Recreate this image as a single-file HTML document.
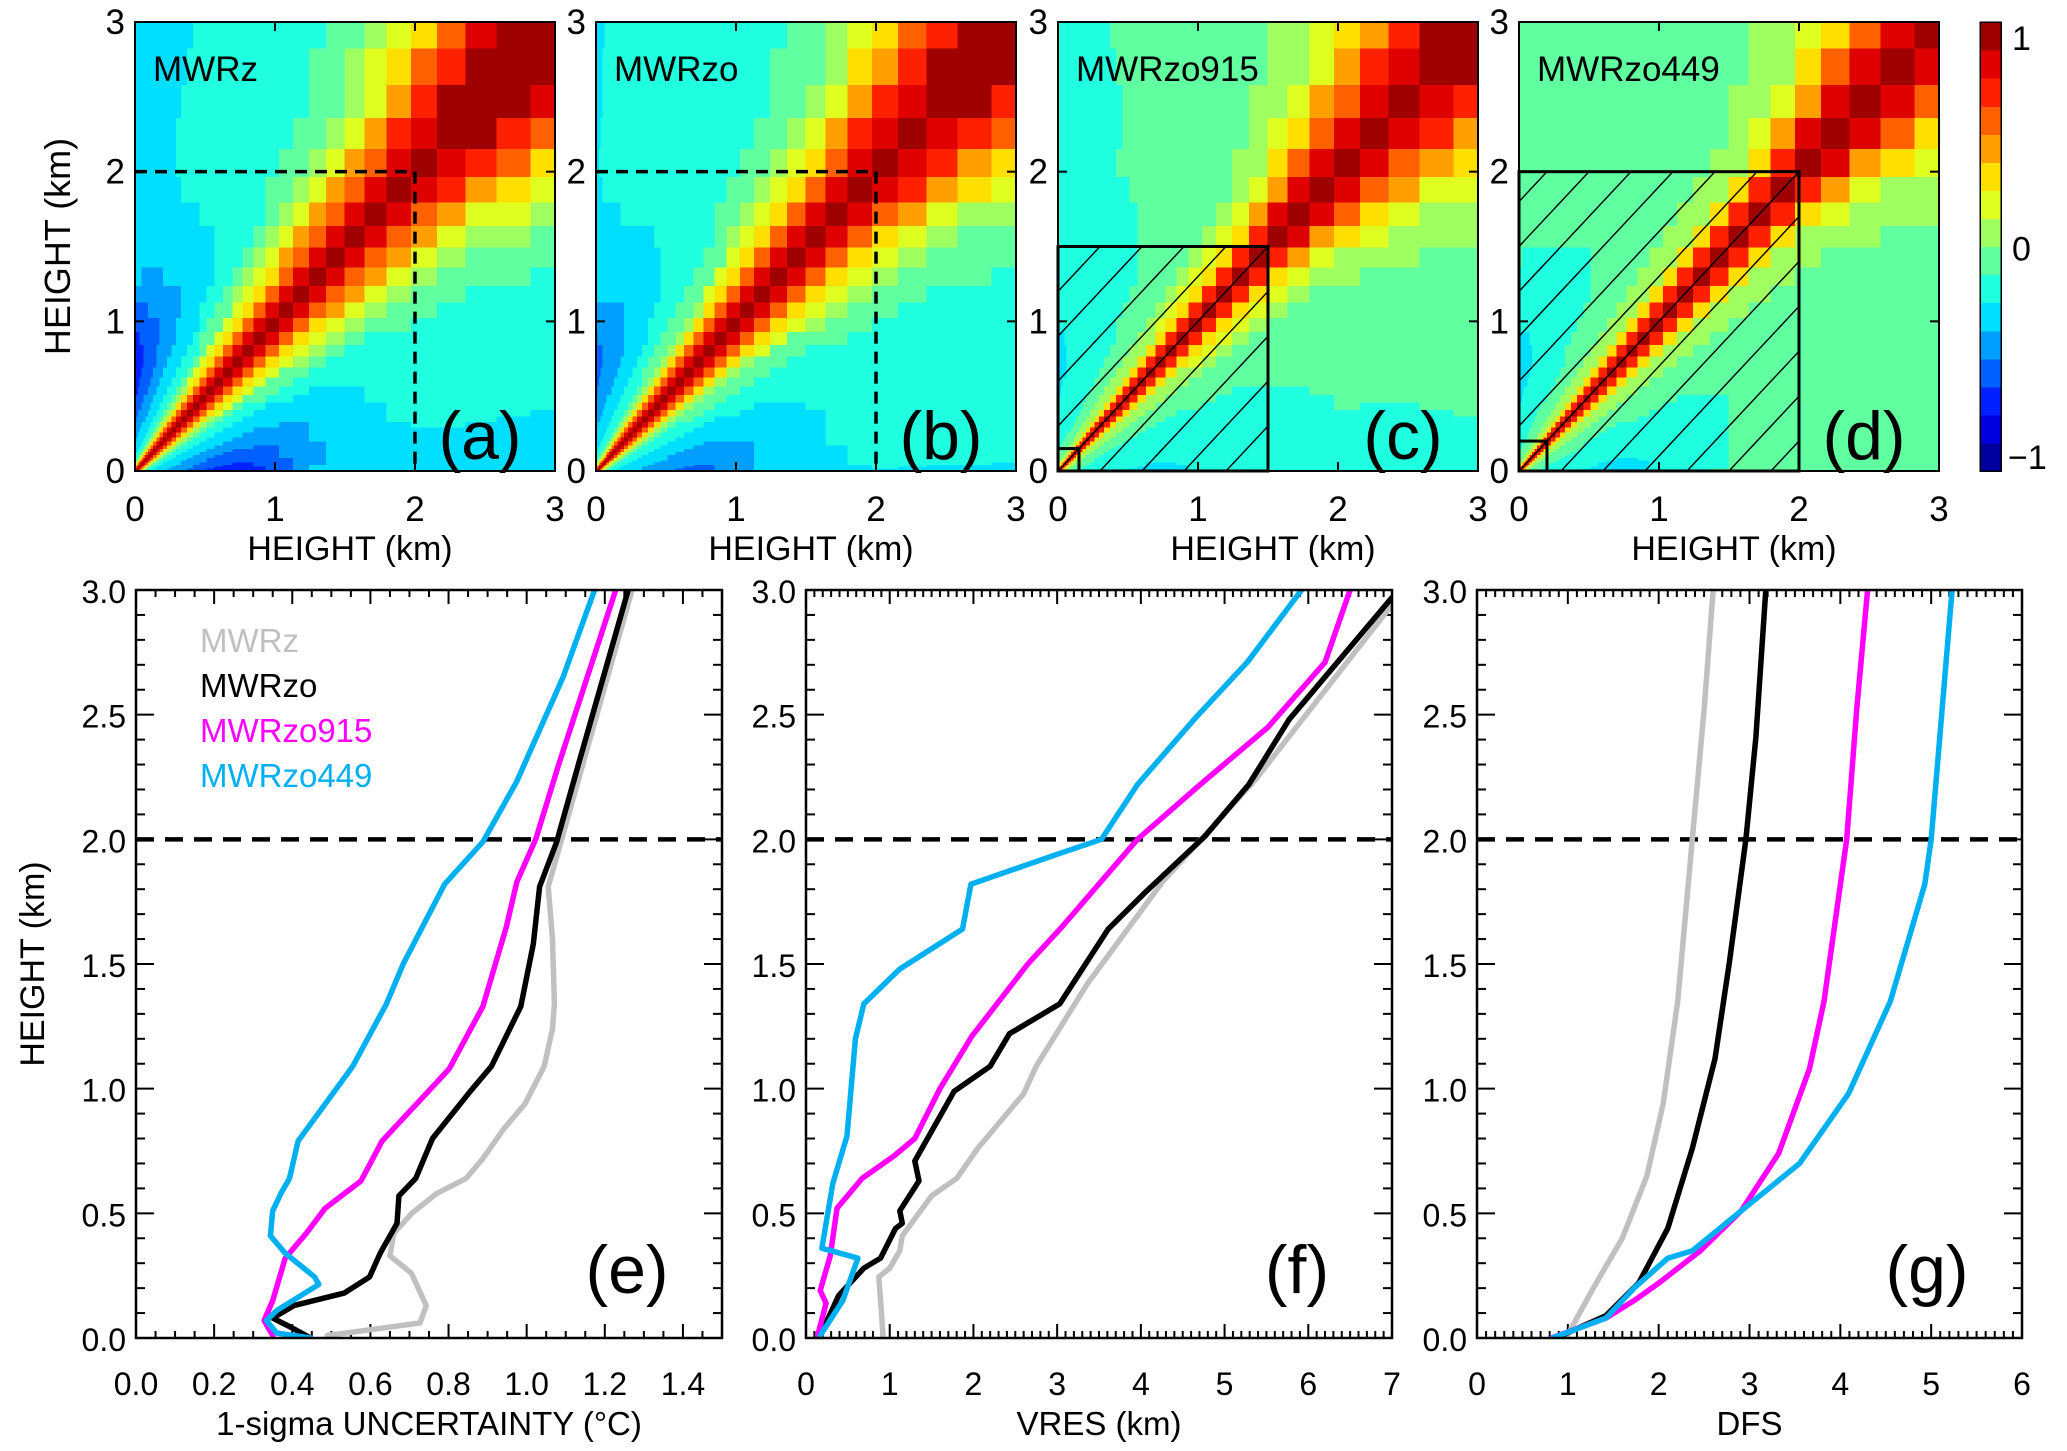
<!DOCTYPE html>
<html><head><meta charset="utf-8">
<style>
html,body{margin:0;padding:0;background:#fff;}
svg{display:block;font-family:"Liberation Sans",Arial,sans-serif;}
</style></head>
<body>
<svg id="fig" width="2067" height="1451" viewBox="0 0 2067 1451" xmlns="http://www.w3.org/2000/svg"></svg>
<script>
// ---------- DATA ----------
const heatTitles = ["MWRz","MWRzo","MWRzo915","MWRzo449"];
const heatLetters = ["(a)","(b)","(c)","(d)"];
const heatLobe = [0.45, 0.3, 0.15, 0.2];          // negative side-lobe strength near surface
const heatBase = [-0.28, -0.26, -0.13, -0.1];     // far-field correlation
const heatWidth0 = [0.03, 0.025, 0.02, 0.02];     // correlation length at surface (km)
const heatWidthSlope = [0.3, 0.28, 0.17, 0.15];   // growth of correlation length per km
const heatKnee = [1.9, 1.9, 1.5, 1.9];            // height above which correlation broadens
const hatchTop = [0, 0, 1.5, 2.0];
const smallBox = [0, 0, 0.15, 0.2];
const dashedBox = [2, 2, 0, 0];

const eGrayX = [0.49,0.727,0.743,0.705,0.65,0.66,0.706,0.77,0.845,0.888,0.942,0.996,1.045,1.066,1.071,1.066,1.055,1.077,1.27];
const eGrayY = [0.01,0.06,0.13,0.26,0.33,0.42,0.5,0.58,0.64,0.72,0.84,0.94,1.09,1.24,1.34,1.6,1.81,1.93,3.0];
const eBlackX = [0.447,0.40,0.35,0.404,0.533,0.598,0.625,0.668,0.673,0.716,0.759,0.856,0.91,0.985,1.017,1.033,1.077,1.136,1.26];
const eBlackY = [0,0.04,0.08,0.13,0.18,0.245,0.34,0.46,0.57,0.64,0.80,0.99,1.09,1.33,1.58,1.81,1.99,2.32,3.0];
const eMagX = [0.35,0.328,0.35,0.382,0.436,0.484,0.576,0.63,0.737,0.802,0.888,0.948,0.975,1.023,1.082,1.228];
const eMagY = [0.01,0.07,0.15,0.32,0.42,0.52,0.63,0.79,0.97,1.08,1.33,1.65,1.83,2.0,2.3,3.0];
const eCyanX = [0.447,0.36,0.334,0.36,0.468,0.457,0.382,0.344,0.35,0.371,0.393,0.415,0.555,0.641,0.684,0.79,0.888,0.974,1.093,1.174];
const eCyanY = [0,0.02,0.07,0.11,0.215,0.245,0.34,0.41,0.51,0.58,0.64,0.79,1.09,1.34,1.50,1.82,1.99,2.23,2.65,3.0];

const fGrayX = [0.92,0.90,0.87,1.0,1.12,1.15,1.5,1.8,2.05,2.6,2.75,3.36,4.26,5.37,7.02];
const fGrayY = [0.01,0.11,0.245,0.28,0.35,0.41,0.57,0.64,0.76,0.98,1.09,1.42,1.83,2.24,2.95];
const fBlackX = [0.17,0.39,0.69,0.89,1.07,1.15,1.12,1.35,1.30,1.77,2.2,2.43,3.03,3.61,4.06,4.76,5.29,5.77,7.0];
const fBlackY = [0.01,0.17,0.28,0.32,0.44,0.46,0.51,0.63,0.71,0.99,1.09,1.22,1.34,1.64,1.79,2.01,2.22,2.48,2.97];
const fMagX = [0.14,0.24,0.17,0.29,0.37,0.67,1.05,1.30,1.6,1.98,2.65,3.06,3.96,4.71,5.52,6.2,6.5];
const fMagY = [0.01,0.14,0.19,0.33,0.52,0.64,0.73,0.80,1.00,1.21,1.50,1.65,2.0,2.22,2.45,2.71,3.0];
const fCyanX = [0.17,0.44,0.62,0.19,0.32,0.49,0.59,0.69,1.12,1.87,1.97,3.0,3.53,3.96,4.66,5.27,5.92];
const fCyanY = [0.01,0.15,0.32,0.36,0.62,0.81,1.20,1.34,1.48,1.64,1.82,1.94,2.0,2.22,2.49,2.71,3.0];

const gGrayX = [0.98,1.28,1.6,1.87,2.05,2.21,2.37,2.5,2.6];
const gGrayY = [0.0,0.2,0.4,0.65,0.94,1.35,2.0,2.52,3.0];
const gBlackX = [0.87,1.42,1.78,2.1,2.37,2.62,2.78,2.96,3.07,3.18];
const gBlackY = [0,0.09,0.22,0.44,0.76,1.12,1.51,2.0,2.41,3.0];
const gMagX = [0.82,1.42,1.73,2.0,2.46,2.91,3.32,3.66,3.82,4.07,4.18,4.3];
const gMagY = [0,0.08,0.15,0.22,0.35,0.51,0.74,1.08,1.35,2.0,2.52,3.0];
const gCyanX = [0.83,1.42,1.73,2.1,2.37,2.91,3.55,4.09,4.55,4.93,5.0,5.12,5.23];
const gCyanY = [0,0.08,0.2,0.32,0.35,0.51,0.70,0.98,1.35,1.82,2.0,2.52,3.0];

const legendNames = ["MWRz","MWRzo","MWRzo915","MWRzo449"];
const eTicks = ["0.0","0.2","0.4","0.6","0.8","1.0","1.2","1.4"];
const fTicks = ["0","1","2","3","4","5","6","7"];
const gTicks = ["0","1","2","3","4","5","6"];
const yTicks = ["0.0","0.5","1.0","1.5","2.0","2.5","3.0"];

// ---------- HELPERS ----------
const NS="http://www.w3.org/2000/svg";
const svg=document.getElementById('fig');
function mk(tag,attrs,parent){const e=document.createElementNS(NS,tag);for(const k in attrs)e.setAttribute(k,attrs[k]);(parent||svg).appendChild(e);return e;}
function txt(s,attrs,parent){const e=mk('text',attrs,parent);e.textContent=s;return e;}
const colors=["#c0c0c0","#000000","#ff00ff","#00b0f0"];

function jet(v){
  let t=(v+1)/2; t=Math.max(0,Math.min(0.9999,t));
  t=(Math.floor(t*16)+0.5)/16;
  const c=x=>Math.round(255*Math.max(0,Math.min(1,x)));
  return `rgb(${c(1.5-Math.abs(4*t-3))},${c(1.5-Math.abs(4*t-2))},${c(1.5-Math.abs(4*t-1))})`;
}

const zEdges=[0]; {let dz=0.01;while(zEdges[zEdges.length-1]<3){zEdges.push(Math.min(3,zEdges[zEdges.length-1]+dz));dz*=1.09;}}

// ---------- TOP HEATMAPS ----------
const topX=[135,596,1058,1519], topY=22, topW=420, topH=449;
for(let p=0;p<4;p++){
  const g=mk('g',{});
  
  
  const X=v=>topX[p]+v/3*topW, Y=v=>topY+topH-v/3*topH;
  const cells=mk('g',{'shape-rendering':'crispEdges'},g);
  
  
  for(let i=0;i<zEdges.length-1;i++){
    const zi=(zEdges[i]+zEdges[i+1])/2;
    for(let j=0;j<zEdges.length-1;j++){
      const zj=(zEdges[j]+zEdges[j+1])/2;
      const d=Math.abs(zi-zj), zm=(zi+zj)/2, zmin=Math.min(zi,zj);
      const L=heatWidth0[p]+heatWidthSlope[p]*zm+0.3*Math.max(0,zm-heatKnee[p]);
      const f=0.55*Math.exp(-(d/L)*(d/L))+0.45*Math.exp(-d/(1.6*L));
      let v=heatBase[p]+(1-heatBase[p])*f;
      v-=heatLobe[p]*Math.exp(-zmin/0.35)*Math.exp(-((d-0.7)/0.5)*((d-0.7)/0.5));
      const x0=X(zEdges[i]), x1=X(zEdges[i+1]), y0=Y(zEdges[j+1]), y1=Y(zEdges[j]);
      mk('rect',{x:x0.toFixed(2),y:y0.toFixed(2),width:(x1-x0+0.6).toFixed(2),height:(y1-y0+0.6).toFixed(2),fill:jet(v)},cells);
    }
  }
  mk('rect',{x:topX[p],y:topY,width:topW,height:topH,fill:'none',stroke:'#000','stroke-width':2},g);
  for(let k=0;k<=3;k++){
    mk('line',{x1:X(k),x2:X(k),y1:topY+topH,y2:topY+topH-9,stroke:'#000','stroke-width':2},g);
    mk('line',{x1:X(k),x2:X(k),y1:topY,y2:topY+9,stroke:'#000','stroke-width':2},g);
    mk('line',{x1:topX[p],x2:topX[p]+9,y1:Y(k),y2:Y(k),stroke:'#000','stroke-width':2},g);
    mk('line',{x1:topX[p]+topW,x2:topX[p]+topW-9,y1:Y(k),y2:Y(k),stroke:'#000','stroke-width':2},g);
    const xl=txt(String(k),{x:X(k),y:topY+topH+50,'font-size':35,'text-anchor':'middle'},g);
    
    const yl=txt(String(k),{x:topX[p]-10,y:Y(k)+12,'font-size':35,'text-anchor':'end'},g);
    
  }
  if(dashedBox[p]){
    const dl=mk('path',{d:`M${X(0)},${Y(2)}H${X(2)}V${Y(0)}`,fill:'none',stroke:'#000','stroke-width':3.5,'stroke-dasharray':'12,8'},g);
    
  }
  if(hatchTop[p]){
    const h=hatchTop[p];
    const cid='clip'+p;
    const cp=mk('clipPath',{id:cid},g);
    mk('rect',{x:X(0),y:Y(h),width:X(h)-X(0),height:Y(0)-Y(h)},cp);
    const hg=mk('g',{'clip-path':`url(#${cid})`},g);
    
    for(let c=-3;c<=3.01;c+=0.3){
      mk('line',{x1:X(0),y1:Y(0+c),x2:X(3),y2:Y(3+c),stroke:'#000','stroke-width':1.4},hg);
    }
    mk('rect',{x:X(0),y:Y(h),width:X(h)-X(0),height:Y(0)-Y(h),fill:'none',stroke:'#000','stroke-width':3},g);
    mk('rect',{x:X(0),y:Y(smallBox[p]),width:X(smallBox[p])-X(0),height:Y(0)-Y(smallBox[p]),fill:'none',stroke:'#000','stroke-width':3},g);
  }
  const t=txt(heatTitles[p],{x:topX[p]+18,y:81,'font-size':35},g);
  
  const l=txt(heatLetters[p],{x:topX[p]+345,y:topY+topH-12,'font-size':68,'text-anchor':'middle'},g);
  
  const xt=txt('HEIGHT (km)',{x:topX[p]+topW/2+5,y:560,'font-size':34,'text-anchor':'middle'},g);
  
}
const yt1=txt('HEIGHT (km)',{x:0,y:0,'font-size':36,'text-anchor':'middle',transform:`translate(70,${topY+topH/2}) rotate(-90)`});


{
  const cb=mk('g',{'shape-rendering':'crispEdges'});
  
  const cx=1980,cw=21;
  for(let k=0;k<16;k++){
    const v=-1+(k+0.5)*2/16;
    mk('rect',{x:cx,y:topY+topH-(k+1)*topH/16,width:cw,height:topH/16+0.6,fill:jet(v)},cb);
  }
  mk('rect',{x:cx,y:topY,width:cw,height:topH,fill:'none',stroke:'#000','stroke-width':1.5},cb);
  txt('1',{x:2012,y:50,'font-size':34},cb);
  txt('0',{x:2012,y:topY+topH/2+14,'font-size':34},cb);
  txt('\u22121',{x:2008,y:topY+topH-2,'font-size':34},cb);
}

// ---------- BOTTOM LINE PLOTS ----------
const botY=590, botH=748;
const panels=[
  {x:136,w:586,xmax:1.5,ticks:eTicks,major:0.2,minor:0.05,title:'1-sigma UNCERTAINTY (\u00b0C)',letter:'(e)',
   series:[[eGrayX,eGrayY],[eBlackX,eBlackY],[eMagX,eMagY],[eCyanX,eCyanY]]},
  {x:806,w:586,xmax:7,ticks:fTicks,major:1,minor:0.1,title:'VRES (km)',letter:'(f)',
   series:[[fGrayX,fGrayY],[fBlackX,fBlackY],[fMagX,fMagY],[fCyanX,fCyanY]]},
  {x:1477,w:545,xmax:6,ticks:gTicks,major:1,minor:0.1,title:'DFS',letter:'(g)',
   series:[[gGrayX,gGrayY],[gBlackX,gBlackY],[gMagX,gMagY],[gCyanX,gCyanY]]}
];
const seriesNames=['mwrz-line','mwrzo-line','mwrzo915-line','mwrzo449-line'];
panels.forEach((P,pi)=>{
  const g=mk('g',{});
  
  
  const X=v=>P.x+v/P.xmax*P.w, Y=v=>botY+botH-v/3*botH;
  const cid='bclip'+pi;
  const cp=mk('clipPath',{id:cid},g);
  mk('rect',{x:P.x,y:botY,width:P.w,height:botH},cp);
  const nmin=Math.round(P.xmax/P.minor);
  for(let k=0;k<=nmin;k++){
    const v=k*P.minor, isMaj=Math.abs(v/P.major-Math.round(v/P.major))<1e-6, len=isMaj?14:7;
    mk('line',{x1:X(v),x2:X(v),y1:botY+botH,y2:botY+botH-len,stroke:'#000','stroke-width':2},g);
    mk('line',{x1:X(v),x2:X(v),y1:botY,y2:botY+len,stroke:'#000','stroke-width':2},g);
  }
  for(let k=0;k<=30;k++){
    const v=k*0.1, isMaj=k%5===0, len=isMaj?18:9;
    mk('line',{x1:P.x,x2:P.x+len,y1:Y(v),y2:Y(v),stroke:'#000','stroke-width':2},g);
    mk('line',{x1:P.x+P.w,x2:P.x+P.w-len,y1:Y(v),y2:Y(v),stroke:'#000','stroke-width':2},g);
  }
  P.ticks.forEach((s,k)=>{
    const t=txt(s,{x:X(k*P.major),y:1395,'font-size':32,'text-anchor':'middle'},g);
    
  });
  yTicks.forEach((s,k)=>{
    const t=txt(s,{x:P.x-10,y:Y(k*0.5)+13,'font-size':32,'text-anchor':'end'},g);
    
  });
  const dl=mk('line',{x1:P.x,x2:P.x+P.w,y1:Y(2),y2:Y(2),stroke:'#000','stroke-width':4.5,'stroke-dasharray':'18,11'},g);
  
  const lg=mk('g',{'clip-path':`url(#${cid})`},g);
  P.series.forEach((s,si)=>{
    const d=s[0].map((xv,i)=>(i?'L':'M')+X(xv).toFixed(1)+','+Y(s[1][i]).toFixed(1)).join('');
    const pth=mk('path',{d:d,fill:'none',stroke:colors[si],'stroke-width':5.5,'stroke-linejoin':'round','stroke-linecap':'round'},lg);
    
    
  });
  mk('rect',{x:P.x,y:botY,width:P.w,height:botH,fill:'none',stroke:'#000','stroke-width':2.5},g);
  const lt=txt(P.letter,{x:P.x+P.w-95,y:botY+botH-45,'font-size':68,'text-anchor':'middle'},g);
  
  const xt=txt(P.title,{x:P.x+P.w/2,y:1435,'font-size':33,'text-anchor':'middle'},g);
  
});
const yt2=txt('HEIGHT (km)',{x:0,y:0,'font-size':34,'text-anchor':'middle',transform:`translate(44,${botY+botH/2}) rotate(-90)`});

legendNames.forEach((n,i)=>{
  const t=txt(n,{x:200,y:652+i*45,'font-size':33,fill:colors[i]});
  
  
});
</script>
</body></html>
